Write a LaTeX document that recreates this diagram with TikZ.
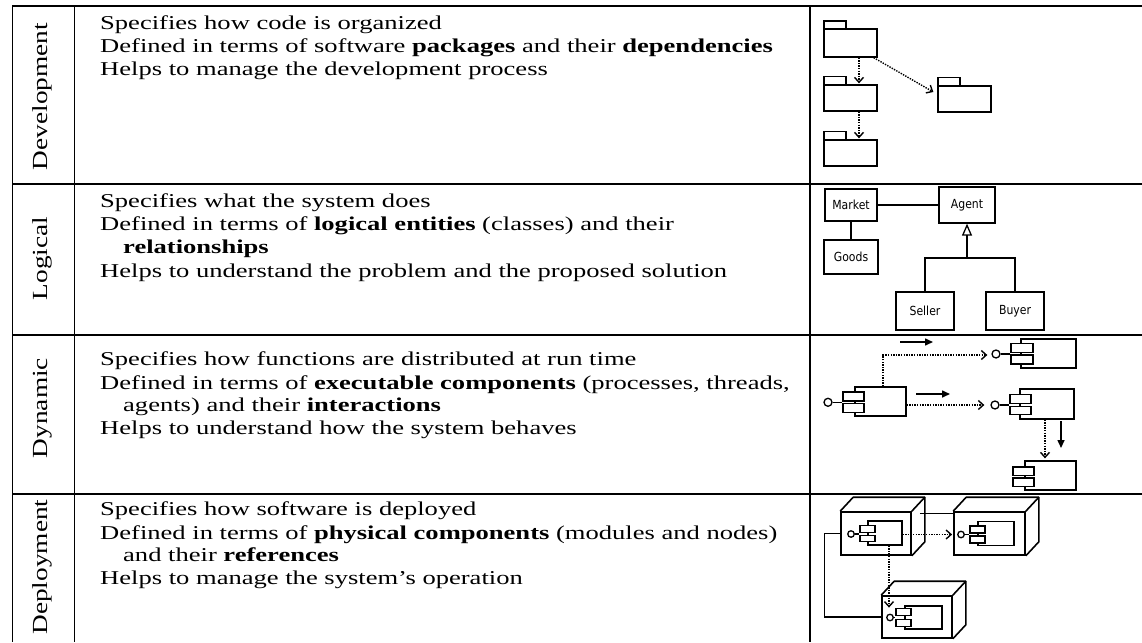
\documentclass[tikz,border=0pt]{standalone}
\usepackage{fontspec}
\setmainfont{Liberation Serif}[FakeStretch=1.355]
\newfontfamily\labelfont{Liberation Serif}[FakeStretch=1.27]
\newfontfamily\diagfont{DejaVu Sans}[FakeStretch=0.87]
\usetikzlibrary{arrows.meta}
\tikzset{
  tbl/.style={line width=1.9pt},
  txt/.style={anchor=base west, inner sep=0pt, font=\fontsize{19.6}{23}\selectfont},
  rowlabel/.style={rotate=90, inner sep=0pt, font=\labelfont\fontsize{21.5}{24}\selectfont},
  box/.style={draw, line width=1.3pt, inner sep=0pt, font=\diagfont\fontsize{12.5}{14}\selectfont},
  pkgbody/.style={draw, line width=1.3pt, inner sep=0pt},
  pkgtab/.style={line width=1.3pt},
  dep/.style={line width=1.4pt, dash pattern=on 1.4pt off 1.2pt, -{Straight Barb[length=5pt,width=9pt,line width=1.4pt]}},
  msg/.style={line width=1.5pt, -{Triangle[length=8pt,width=7pt]}},
  gen/.style={line width=1.3pt, -{Triangle[open,length=12pt,width=10pt]}},
  assoc/.style={line width=1.3pt},
  lolli/.style={circle, draw, line width=1.3pt, fill=white, inner sep=0pt},
  plug/.style={draw, line width=1.3pt, fill=white, inner sep=0pt},
  compbody/.style={draw, line width=1.3pt, inner sep=0pt},
  node3d/.style={draw, line width=1.6pt, inner sep=0pt},
  depth3d/.style={line width=1.6pt, line join=round},
}
\begin{document}
\begin{tikzpicture}[x=1pt,y=-1pt]
\useasboundingbox (0,0) rectangle (1142,642);

% ---------- table rules ----------
\draw[tbl] (12.5,6) -- (1142,6);
\draw[tbl] (12.5,184) -- (1142,184);
\draw[tbl] (12.5,335) -- (1142,335);
\draw[tbl] (12.5,494) -- (1142,494);
\draw[tbl] (12.5,5.05) -- (12.5,642);
\draw[tbl] (74.5,6) -- (74.5,642);
\draw[tbl] (810,6) -- (810,642);

% ---------- row labels ----------
\node[rowlabel] (lDev) at (42.5,96.5) {Development};
\node[rowlabel] (lLog) at (42.5,258.5) {Logical};
\node[rowlabel] (lDyn) at (42.5,408) {Dynamic};
\node[rowlabel] (lDep) at (42.5,567) {Deployment};

% ---------- texts ----------
\node[txt] (t11) at (100,29.3) {Specifies how code is organized};
\node[txt] (t12) at (100,52.3) {Defined in terms of software \textbf{packages} and their \textbf{dependencies}};
\node[txt] (t13) at (100,75.3) {Helps to manage the development process};

\node[txt] (t21) at (100,207.3) {Specifies what the system does};
\node[txt] (t22) at (100,230.5) {Defined in terms of \textbf{logical entities} (classes) and their};
\node[txt] (t23) at (123,253.8) {\textbf{relationships}};
\node[txt] (t24) at (100,277) {Helps to understand the problem and the proposed solution};

\node[txt] (t31) at (100,365.7) {Specifies how functions are distributed at run time};
\node[txt] (t32) at (100,389) {Defined in terms of \textbf{executable components} (processes, threads,};
\node[txt] (t33) at (123,411.7) {agents) and their \textbf{interactions}};
\node[txt] (t34) at (100,434.3) {Helps to understand how the system behaves};

\node[txt] (t41) at (100,515.7) {Specifies how software is deployed};
\node[txt] (t42) at (100,539) {Defined in terms of \textbf{physical components} (modules and nodes)};
\node[txt] (t43) at (123,561.7) {and their \textbf{references}};
\node[txt] (t44) at (100,584.3) {Helps to manage the system’s operation};

% ---------- Development: packages ----------
\node[pkgbody, minimum width=53pt, minimum height=28pt] (p1) at (850.5,43) {};
\node[pkgbody, minimum width=53pt, minimum height=26pt] (p2) at (850.5,98) {};
\node[pkgbody, minimum width=53pt, minimum height=26pt] (p3) at (850.5,153) {};
\node[pkgbody, minimum width=53pt, minimum height=26pt] (p4) at (964.5,99) {};
\draw[pkgtab] (824,21) rectangle (846,29);
\draw[pkgtab] (824,76.5) rectangle (846,85);
\draw[pkgtab] (824,131.5) rectangle (846,140);
\draw[pkgtab] (938,77.5) rectangle (960,86);
\draw[dep] ([xshift=8.5pt]p1.south) -- ([xshift=8.5pt,yshift=1pt]p2.north);
\draw[dep] ([xshift=8.5pt]p2.south) -- ([xshift=8.5pt,yshift=1pt]p3.north);
\draw[dep] ([xshift=-4pt]p1.south east) -- ([xshift=-4pt,yshift=7pt]p4.west);

% ---------- Logical: classes ----------
\node[box, minimum width=52pt, minimum height=32pt] (market) at (851,205) {Market};
\node[box, minimum width=56pt, minimum height=36pt] (agent) at (967,205) {Agent};
\node[box, minimum width=54pt, minimum height=34pt] (goods) at (851,257) {Goods};
\node[box, minimum width=58pt, minimum height=38pt] (seller) at (925,311) {Seller};
\node[box, minimum width=58pt, minimum height=38pt] (buyer) at (1015,311) {Buyer};
\coordinate (gj) at (967,258);
\draw[assoc] (market.east) -- (agent.west);
\draw[assoc] (market.south) -- (goods.north);
\draw[assoc] (seller.north) |- (gj) -| (buyer.north);
\draw[gen] (gj) -- (agent.south);

% ---------- Dynamic: components ----------
% A
\node[compbody, minimum width=51pt, minimum height=29pt] (cA) at (880.5,401.5) {};
\node[plug, minimum width=21pt, minimum height=9pt] (cA1) at (853.5,396.5) {};
\node[plug, minimum width=21pt, minimum height=8.5pt] (cA2) at (853.5,408) {};
\node[lolli, minimum size=8pt] (cAc) at (828,402.3) {};
\draw[assoc] (cAc.east) -- (cAc.east -| cA1.west);
% B
\node[compbody, minimum width=55pt, minimum height=29pt] (cB) at (1048.5,353.5) {};
\node[plug, minimum width=22pt, minimum height=9.5pt] (cB1) at (1022,348) {};
\node[plug, minimum width=22pt, minimum height=9pt] (cB2) at (1022,359.5) {};
\node[lolli, minimum size=8pt] (cBc) at (996,354) {};
\draw[assoc] (cBc.east) -- (cBc.east -| cB1.west);
% C
\node[compbody, minimum width=54pt, minimum height=30pt] (cC) at (1047,404) {};
\node[plug, minimum width=21pt, minimum height=9pt] (cC1) at (1020.5,399.3) {};
\node[plug, minimum width=21pt, minimum height=8.5pt] (cC2) at (1020.5,410.5) {};
\node[lolli, minimum size=8pt] (cCc) at (995,405) {};
\draw[assoc] (cCc.east) -- (cCc.east -| cC1.west);
% D
\node[compbody, minimum width=51pt, minimum height=29pt] (cD) at (1050.5,475.5) {};
\node[plug, minimum width=21pt, minimum height=8.5pt] (cD1) at (1023.5,471.3) {};
\node[plug, minimum width=21pt, minimum height=8.5pt] (cD2) at (1023.5,482.3) {};
% connectors
\draw[dep] ([xshift=2.5pt]cA.north) |- ([xshift=-4pt,yshift=-1pt]cBc.west);
\draw[dep] (cA.east |- cCc.west) -- ([xshift=-6pt]cCc.west);
\draw[dep] ([xshift=-2pt]cC.south) -- ([xshift=-5.5pt,yshift=2pt]cD.north);
% message arrows
\coordinate (m1s) at (900,342);
\coordinate (m1e) at (933,342);
\coordinate (m2s) at (916,394);
\coordinate (m2e) at (950,394);
\coordinate (m3s) at (1061,421);
\coordinate (m3e) at (1061,448);
\draw[msg] (m1s) -- (m1e);
\draw[msg] (m2s) -- (m2e);
\draw[msg] (m3s) -- (m3e);

% ---------- Deployment: nodes ----------
\node[node3d, minimum width=70pt, minimum height=43pt] (N1) at (876,533.5) {};
\node[node3d, minimum width=71pt, minimum height=43pt] (N2) at (989.5,533.5) {};
\node[node3d, minimum width=70pt, minimum height=42pt] (N3) at (917,617) {};
\foreach \n in {N1,N2,N3}{
  \draw[depth3d] (\n.north west) -- ++(13,-14) -- ([shift={(13,-14)}]\n.north east)
     -- ([shift={(13,-14)}]\n.south east) -- (\n.south east);
  \draw[depth3d] (\n.north east) -- ++(13,-14);
}
% components inside nodes
\node[compbody, minimum width=34pt, minimum height=24pt] (d1) at (885,533) {};
\node[plug, minimum width=15pt, minimum height=6.5pt] (d1a) at (867.5,529) {};
\node[plug, minimum width=15pt, minimum height=6.5pt] (d1b) at (867.5,538.5) {};
\node[lolli, minimum size=6.5pt] (d1c) at (851,534) {};
\draw[assoc] (d1c.east) -- (d1c.east -| d1a.west);

\node[compbody, minimum width=36pt, minimum height=24pt] (d2) at (996,533.5) {};
\node[plug, minimum width=15pt, minimum height=7pt] (d2a) at (977.5,529.5) {};
\node[plug, minimum width=15pt, minimum height=7pt] (d2b) at (977.5,539.5) {};
\node[lolli, minimum size=6.5pt] (d2c) at (961,534.5) {};
\draw[assoc] (d2c.east) -- (d2c.east -| d2a.west);

\node[compbody, minimum width=37pt, minimum height=23pt] (d3) at (923.5,617.5) {};
\node[plug, minimum width=15pt, minimum height=7pt] (d3a) at (903.5,612) {};
\node[plug, minimum width=15pt, minimum height=7pt] (d3b) at (903.5,623) {};
\node[lolli, minimum size=6.5pt] (d3c) at (890,617.5) {};
\draw[assoc] (d3c.east) -- (d3c.east -| d3a.west);

% connectors
\draw[assoc] ([xshift=8pt,yshift=-2pt]N1.north east) -- ([yshift=-2pt]N2.north west);
\draw[dep] (d1.east |- d2c.west) -- ([xshift=-5pt]d2c.west);
\draw[dep] ([xshift=4pt]d1.south) -- ([xshift=-1pt,yshift=6pt]d3c.north);
\draw[assoc] (N1.west) -- ++(-16,0) |- (N3.west);
\end{tikzpicture}
\end{document}
